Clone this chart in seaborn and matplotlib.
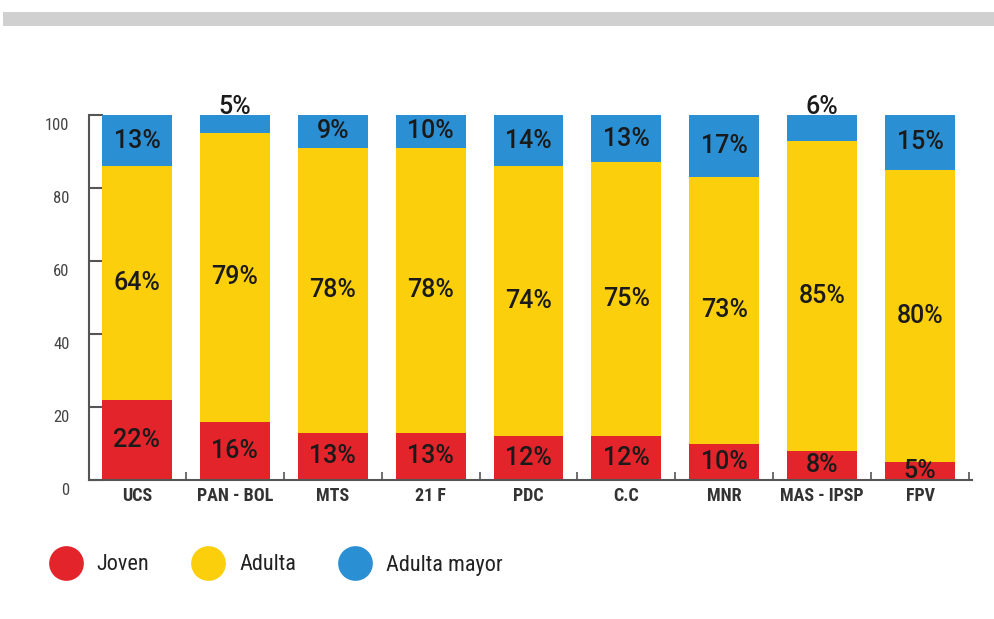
import matplotlib
matplotlib.use('Agg')
import matplotlib.pyplot as plt
import matplotlib.transforms as mtransforms
from matplotlib.lines import Line2D
from matplotlib.patches import Rectangle
import pandas as pd
import seaborn as sb

PARTIES = ['UCS', 'PAN - BOL', 'MTS', '21 F', 'PDC', 'C.C', 'MNR', 'MAS - IPSP', 'FPV']
JOVEN = [22, 16, 13, 13, 12, 12, 10, 8, 5]
ADULTA = [64, 79, 78, 78, 74, 75, 73, 85, 80]
MAYOR = [13, 5, 9, 10, 14, 13, 17, 6, 15]
Y_TICKS = [0, 20, 40, 60, 80, 100]

COLORS = {
    'Joven': '#e3242b',
    'Adulta': '#fccf0c',
    'Adulta mayor': '#2b8fd4',
}

FONT = ['Roboto Condensed', 'DejaVu Sans']

sb.set_style('white')
plt.rcParams['font.family'] = FONT

df = pd.DataFrame({'party': PARTIES, 'joven': JOVEN, 'adulta': ADULTA, 'mayor': MAYOR})
df['adulta_top'] = df['joven'] + df['adulta']
df['full'] = 100  # shares are normalised to the full bar

fig = plt.figure(figsize=(9.94, 6.19), dpi=100)
ax = fig.add_axes([89 / 994, 1 - 480 / 619, (972 - 89) / 994, (480 - 115) / 619])

# draw from the top layer down so each bar covers the previous one
common = dict(x='party', order=PARTIES, width=0.714, saturation=1, ax=ax, linewidth=0)
sb.barplot(data=df, y='full', color=COLORS['Adulta mayor'], **common)
sb.barplot(data=df, y='adulta_top', color=COLORS['Adulta'], **common)
sb.barplot(data=df, y='joven', color=COLORS['Joven'], **common)

ax.set_xlim(-0.49, 8.53)
ax.set_ylim(0, 100)
ax.set_xlabel('')
ax.set_ylabel('')

# labels
lab = dict(ha='center', va='center', fontsize=18, color='#1a1a1a', fontweight='medium',
           family=['Roboto', 'DejaVu Sans'])
for i, row in df.iterrows():
    ax.text(i, row['joven'] / 2, '%d%%' % row['joven'], **lab)
    ax.text(i, row['joven'] + row['adulta'] / 2, '%d%%' % row['adulta'], **lab)
    if row['mayor'] < 8:
        ax.text(i, 102.3, '%d%%' % row['mayor'], clip_on=False, **lab)
    else:
        ax.text(i, (row['adulta_top'] + 100) / 2, '%d%%' % row['mayor'], **lab)

# axes styling
for side in ['top', 'right']:
    ax.spines[side].set_visible(False)
for side in ['left', 'bottom']:
    ax.spines[side].set_color('#555555')
    ax.spines[side].set_linewidth(1.5)

ax.set_yticks(Y_TICKS)
ax.tick_params(axis='y', left=True, direction='in', length=10, width=1.5, color='#555555',
               pad=14, labelsize=12, labelcolor='#444444')
offset = mtransforms.ScaledTranslation(0, -9 / 100, fig.dpi_scale_trans)
for t in ax.get_yticklabels():
    t.set_transform(t.get_transform() + offset)

ax.set_xticks(range(len(PARTIES)))
ax.set_xticklabels(PARTIES)
ax.set_xticks([i + 0.5 for i in range(len(PARTIES))], minor=True)
ax.tick_params(axis='x', which='major', bottom=False, length=0, pad=5, labelsize=13,
               labelcolor='#333333')
ax.tick_params(axis='x', which='minor', bottom=True, direction='in', length=6, width=1.2,
               color='#555555')
for t in ax.get_xticklabels():
    t.set_fontweight('bold')

# legend
handles = [Line2D([], [], marker='o', linestyle='', markersize=25,
                  markerfacecolor=COLORS[k], markeredgewidth=0, label=k)
           for k in COLORS]
fig.legend(handles=handles, loc='center left', bbox_to_anchor=(0.0488, 1 - 565 / 619),
           ncol=3, frameon=False, fontsize=16, handlelength=1.57, handletextpad=0.6,
           columnspacing=1.87, borderpad=0, borderaxespad=0, labelcolor='#222222')

# grey band on top
fig.patches.append(Rectangle((0.003, 1 - 26 / 619), 1.0, 14 / 619, transform=fig.transFigure,
                             facecolor='#d0d0d0', edgecolor='none', zorder=0))

fig.savefig('out.png', dpi=100)
